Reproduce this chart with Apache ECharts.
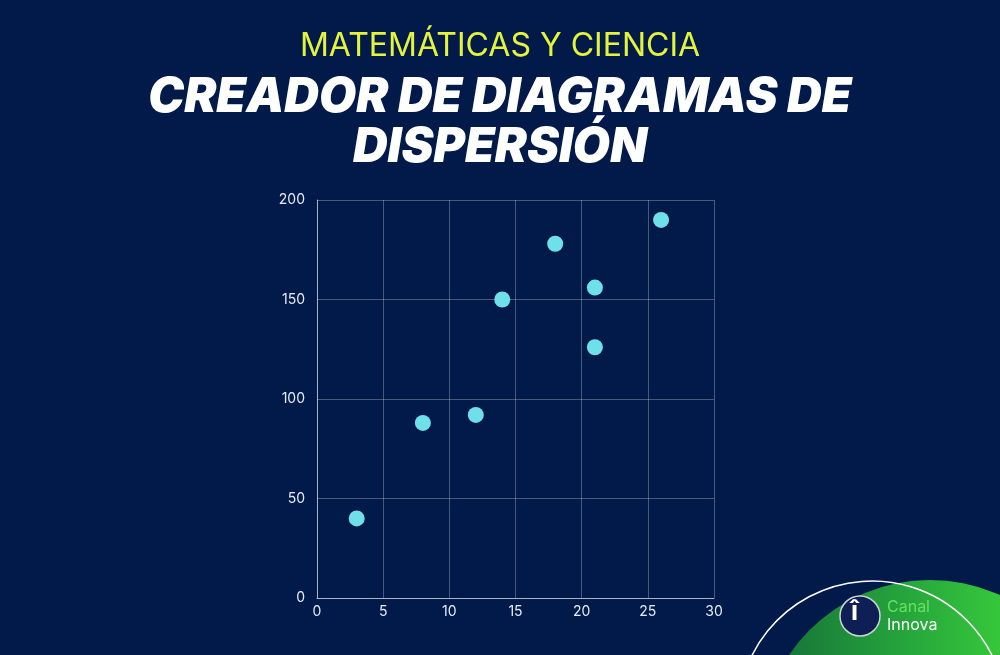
<!DOCTYPE html>
<html>
<head>
<meta charset="utf-8">
<script src="https://cdn.jsdelivr.net/npm/echarts@6/dist/echarts.min.js"></script>
<style>
html,body{margin:0;padding:0;background:#021a4a;}
#c{width:1000px;height:655px;}
</style>
</head>
<body>
<div id="c"></div>
<script>
const xValues = [3, 8, 12, 14, 18, 21, 21, 26];
const yValues = [40, 88, 92, 150, 178, 156, 126, 190];
const xTicks = [0, 5, 10, 15, 20, 25, 30];
const yTicks = [0, 50, 100, 150, 200];
const kicker = 'MATEMÁTICAS Y CIENCIA';
const titleLines = ['CREADOR DE DIAGRAMAS DE', 'DISPERSIÓN'];

const points = xValues.map((x, i) => [x, yValues[i]]);
const chart = echarts.init(document.getElementById('c'));
chart.setOption({
  backgroundColor: '#021a4a',
  animation: false,
  title: [
    {text: kicker, left: 'center', top: 25, textStyle: {color: '#e4f43c', fontSize: 32, fontWeight: 'normal', fontFamily: 'Inter'}},
    {text: titleLines.join('\n'), left: 'center', top: 68, textStyle: {color: '#ffffff', fontSize: 48, fontWeight: 900, fontStyle: 'italic', fontFamily: 'Inter', lineHeight: 50}}
  ],
  grid: {left: 317, right: 286, top: 200, bottom: 57, containLabel: false},
  xAxis: {
    type: 'value', min: xTicks[0], max: xTicks[xTicks.length - 1], interval: 5,
    axisLine: {show: true, lineStyle: {color: 'rgba(255,255,255,0.55)', width: 1}},
    axisTick: {show: false},
    splitLine: {show: true, lineStyle: {color: 'rgba(255,255,255,0.28)', width: 1}},
    axisLabel: {color: '#e6ebf5', fontSize: 14, fontFamily: 'Inter', margin: 7}
  },
  yAxis: {
    type: 'value', min: yTicks[0], max: yTicks[yTicks.length - 1], interval: 50,
    axisLine: {show: true, lineStyle: {color: 'rgba(255,255,255,0.55)', width: 1}},
    axisTick: {show: false},
    splitLine: {show: true, lineStyle: {color: 'rgba(255,255,255,0.28)', width: 1}},
    axisLabel: {color: '#e6ebf5', fontSize: 14, fontFamily: 'Inter', margin: 12}
  },
  series: [{
    type: 'scatter',
    data: points,
    symbolSize: 16,
    itemStyle: {color: '#6fe0ea', opacity: 1}
  }],
  graphic: [
    {type: 'circle', shape: {cx: 930, cy: 750, r: 170}, silent: true,
     style: {fill: new echarts.graphic.LinearGradient(0, 0, 1, 0, [{offset: 0, color: '#146c38'}, {offset: 0.45, color: '#27a83c'}, {offset: 1, color: '#48ea3a'}])}},
    {type: 'arc', shape: {cx: 872, cy: 715, r: 134, startAngle: Math.PI + 0.3, endAngle: 2 * Math.PI - 0.3}, silent: true,
     style: {stroke: '#ffffff', lineWidth: 1.5, fill: null}},
    {type: 'circle', shape: {cx: 860, cy: 616, r: 20}, silent: true,
     style: {fill: '#0e1f55', stroke: '#c9d6cf', lineWidth: 1.5}},
    {type: 'text', left: 851, top: 599, silent: true,
     style: {text: 'î', fill: '#ffffff', font: 'bold 26px Inter'}},
    {type: 'text', left: 887, top: 599, silent: true,
     style: {text: 'Canal', fill: '#66e060', font: '16px Inter'}},
    {type: 'text', left: 887, top: 617, silent: true,
     style: {text: 'Innova', fill: '#ffffff', font: '16px Inter'}}
  ]
});
</script>
</body>
</html>
